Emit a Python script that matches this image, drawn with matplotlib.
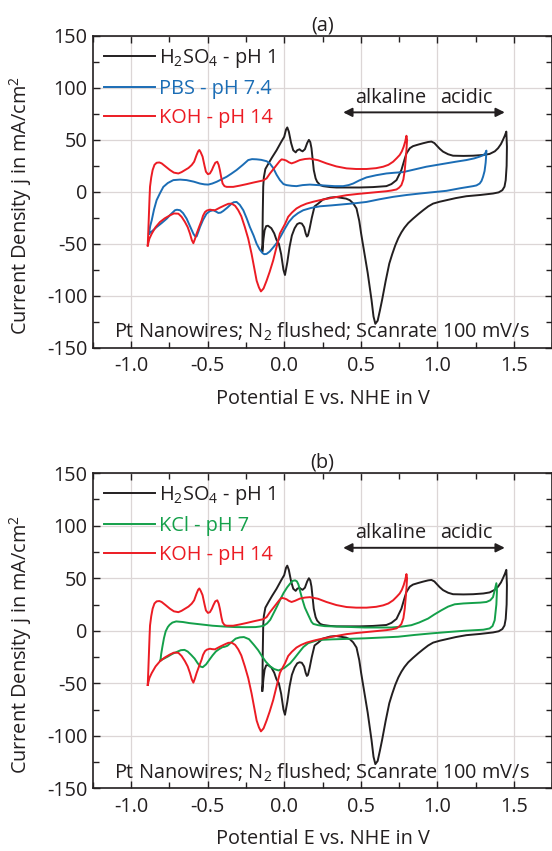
import numpy as np
import matplotlib
matplotlib.use("Agg")
import matplotlib.pyplot as plt
from matplotlib.ticker import MultipleLocator, FormatStrFormatter

plt.rcParams['font.family'] = ['Open Sans', 'DejaVu Sans']
plt.rcParams['mathtext.fontset'] = 'custom'
plt.rcParams['mathtext.rm'] = 'Open Sans'
plt.rcParams['mathtext.it'] = 'Open Sans'
plt.rcParams['axes.unicode_minus'] = False

# ---- data (E in V vs NHE, j in mA/cm^2), one loop per electrolyte
h2so4_E = [-0.143, -0.140, -0.137, -0.133, -0.123, -0.10, -0.08, -0.05, -0.02, 0.0, 0.012, 0.02, 0.03, 0.045,
           0.059, 0.075, 0.085, 0.1, 0.107, 0.12, 0.135, 0.15, 0.161, 0.17, 0.178, 0.185, 0.193, 0.205, 0.215,
           0.235, 0.254, 0.3, 0.341, 0.42, 0.493, 0.58, 0.667, 0.70, 0.733, 0.765, 0.785, 0.798, 0.82, 0.841,
           0.875, 0.907, 0.94, 0.961, 0.98, 0.993, 1.015, 1.037, 1.07, 1.102, 1.17, 1.233, 1.3, 1.341, 1.375,
           1.396, 1.415, 1.428, 1.44, 1.45,
           1.454, 1.452, 1.446, 1.438, 1.424, 1.40, 1.363, 1.28, 1.189, 1.12, 1.059, 1.015, 0.972, 0.94, 0.907,
           0.875, 0.841, 0.81, 0.785, 0.765, 0.745, 0.725, 0.705, 0.686, 0.662, 0.639, 0.625, 0.61, 0.595, 0.583,
           0.57, 0.545, 0.52, 0.502, 0.49, 0.472, 0.45, 0.428, 0.404, 0.363, 0.339, 0.30, 0.276, 0.252, 0.222,
           0.198, 0.18, 0.165, 0.155, 0.148, 0.14, 0.13, 0.115, 0.1, 0.085, 0.068, 0.05, 0.035, 0.02, 0.005,
           -0.005, -0.02, -0.035, -0.051, -0.065, -0.084, -0.106, -0.118, -0.128, -0.135, -0.143]
h2so4_j = [-57, -20, 5, 14, 22, 28, 33, 40, 48, 53, 60, 62, 58, 47,
           40, 38, 40, 41, 40, 39, 41, 47, 50, 48, 42, 32, 21, 13, 9.7,
           6.5, 5.5, 4.6, 4.2, 4.2, 4.2, 4.6, 5.5, 7.5, 11.3, 21, 31, 37, 42, 44,
           45.5, 46.8, 48, 48.4, 47, 45, 41.5, 38.7, 36.2, 34.8, 34.6, 34.8, 35.5, 36.5, 39,
           42, 46, 50, 54, 58,
           43.5, 25, 11.3, 5, 1.6, -0.5, -1.6, -3, -4.2, -6, -8, -9.5, -11.3, -14, -17.7,
           -21.5, -25.8, -30, -34.5, -39, -44.5, -51.5, -60, -69, -86, -104, -114, -124, -127, -120,
           -104, -78, -56, -40, -28, -16, -11, -8, -6.5, -5.5, -5, -5.5, -6.5, -7.5, -11.3,
           -14, -25, -36, -42, -43, -40, -34, -30.5, -30, -31, -35, -42, -53, -68, -80,
           -75, -60, -50, -46, -40, -35, -32.6, -33, -37, -45, -57]

koh_E = [-0.891, -0.889, -0.887, -0.883, -0.879, -0.876, -0.868, -0.859, -0.847, -0.833, -0.815, -0.8, -0.775,
         -0.746, -0.72, -0.691, -0.67, -0.648, -0.625, -0.604, -0.588, -0.572, -0.562, -0.554, -0.545, -0.533,
         -0.52, -0.511, -0.498, -0.485, -0.472, -0.463, -0.45, -0.437, -0.428, -0.42, -0.41, -0.402, -0.39,
         -0.376, -0.333, -0.29, -0.246, -0.2, -0.159, -0.137, -0.115, -0.093, -0.07, -0.05, -0.03, -0.017, 0.0,
         0.015, 0.03, 0.048, 0.07, 0.102, 0.135, 0.167, 0.22, 0.276, 0.34, 0.407, 0.47, 0.537, 0.6, 0.646, 0.68,
         0.711, 0.735, 0.754, 0.768, 0.78, 0.79, 0.798,
         0.802, 0.797, 0.787, 0.778, 0.765, 0.75, 0.733, 0.7, 0.667, 0.61, 0.559, 0.48, 0.407, 0.32, 0.233, 0.19,
         0.146, 0.11, 0.08, 0.05, 0.026, 0.005, -0.017, -0.028, -0.05, -0.072, -0.095, -0.115, -0.135, -0.152,
         -0.165, -0.18, -0.196, -0.213, -0.235, -0.257, -0.28, -0.3, -0.32, -0.343, -0.365, -0.387, -0.42,
         -0.452, -0.47, -0.485, -0.505, -0.517, -0.53, -0.539, -0.555, -0.572, -0.583, -0.593, -0.603, -0.615,
         -0.63, -0.648, -0.67, -0.691, -0.72, -0.746, -0.78, -0.811, -0.84, -0.865, -0.88, -0.891]
koh_j = [-51.6, -45, -37, -20, -5, 5, 14, 21, 26, 28, 28.3, 27.4, 24.5,
         21, 18.5, 17.7, 19, 21, 23, 25.8, 29, 35.5, 39, 40.3, 38, 33.9,
         25, 19.4, 17, 17.7, 21, 24.2, 28, 29, 26, 21, 13, 8, 5.5,
         4.8, 4.8, 6, 7.4, 9, 10.3, 11, 13, 17.7, 22, 25.8, 29.5, 31.3, 30.8,
         30, 28.5, 27.4, 28.5, 30.6, 31.6, 32, 30.5, 27.4, 24.5, 22.6, 22, 22, 22.8, 24.2, 26,
         29, 32.5, 35.5, 39, 43.5, 48.5, 54,
         50, 38, 21, 12, 6.5, 4, 2.3, 1.3, 0.6, -0.2, -1, -2, -3.2, -5.5, -8, -9.5,
         -11.3, -13.5, -16, -20, -24, -31, -37, -40, -53, -66, -77, -85.5, -93, -95.8,
         -92, -85.5, -73, -59.7, -45, -33.9, -23.5, -17.7, -13.5, -11.3, -11.5, -12.9, -15.2,
         -17.7, -17.5, -17.1, -18, -19.4, -23, -27.4, -33.5, -40.3, -45.5, -49.4, -46.5, -40.3,
         -34, -29, -24, -21, -20.8, -22.6, -25.5, -29, -34, -40.3, -45, -51.6]

pbs_E = [-0.883, -0.875, -0.865, -0.85, -0.833, -0.81, -0.789, -0.76, -0.724, -0.68, -0.637, -0.59, -0.55,
         -0.52, -0.496, -0.47, -0.441, -0.41, -0.376, -0.345, -0.311, -0.27, -0.235, -0.21, -0.18, -0.15,
         -0.115, -0.095, -0.072, -0.05, -0.028, -0.005, 0.015, 0.05, 0.08, 0.12, 0.167, 0.22, 0.276, 0.33,
         0.385, 0.42, 0.45, 0.49, 0.537, 0.6, 0.667, 0.72, 0.776, 0.85, 0.928, 1.0, 1.059, 1.12, 1.189, 1.24,
         1.276, 1.3, 1.312, 1.32,
         1.318, 1.315, 1.308, 1.298, 1.288, 1.276, 1.255, 1.233, 1.15, 1.059, 0.97, 0.885, 0.8, 0.711, 0.62,
         0.537, 0.46, 0.385, 0.31, 0.233, 0.175, 0.124, 0.09, 0.059, 0.03, 0.004, -0.02, -0.045, -0.072,
         -0.095, -0.115, -0.13, -0.141, -0.16, -0.18, -0.2, -0.224, -0.245, -0.267, -0.29, -0.311, -0.33,
         -0.343, -0.37, -0.398, -0.415, -0.43, -0.445, -0.463, -0.485, -0.507, -0.53, -0.55, -0.562, -0.572,
         -0.583, -0.593, -0.615, -0.637, -0.66, -0.68, -0.7, -0.713, -0.74, -0.767, -0.8, -0.833, -0.86, -0.883]
pbs_j = [-40.3, -33, -27.4, -17, -8, -1, 4.8, 8.5, 11.3, 11.8, 11.3, 9.8, 8,
         7.2, 7, 8, 9.7, 12, 14.5, 17.5, 21, 26, 30.6, 31.5, 31.3, 30.8,
         29.5, 27.5, 23, 16.5, 11.3, 7.5, 6.5, 5.8, 5.5, 6.5, 7, 6.5, 6, 5.5,
         5.5, 6.5, 8, 11, 13.9, 16, 17.7, 18.4, 19, 21.5, 24.2, 26, 27.4, 29, 30.6, 32.2,
         33.9, 35.3, 37, 39.7,
         34, 28, 20, 14.5, 10.5, 8, 6.2, 5.5, 3.5, 1, -0.3, -1.6, -3, -4.8, -7.2,
         -9.7, -11, -12, -13, -13.9, -15.5, -17.7, -20.5, -24, -29, -35.5, -42, -48.5, -53.5,
         -57.5, -59.7, -60, -59, -55.5, -50, -42, -33.9, -25.5, -17.7, -12.5, -9.7, -10,
         -11.3, -15, -18.4, -20, -20.3, -19, -17.7, -18.5, -21, -27, -33.9, -39, -42.9,
         -42.5, -40.3, -33, -25.8, -20.5, -17.7, -17.2, -17.7, -21.5, -25.8, -30, -33.9, -37.5, -40.3]

kcl_E = [-0.808, -0.803, -0.795, -0.785, -0.774, -0.76, -0.748, -0.73, -0.705, -0.66, -0.619, -0.54, -0.468,
         -0.39, -0.317, -0.25, -0.188, -0.16, -0.134, -0.112, -0.091, -0.07, -0.047, -0.025, -0.004, 0.02,
         0.039, 0.055, 0.071, 0.083, 0.093, 0.105, 0.119, 0.135, 0.157, 0.178, 0.19, 0.222, 0.265, 0.35, 0.45,
         0.526, 0.6, 0.7, 0.77, 0.83, 0.88, 0.939, 0.98, 1.026, 1.07, 1.113, 1.17, 1.222, 1.28, 1.32, 1.345,
         1.363, 1.374, 1.385,
         1.389, 1.385, 1.374, 1.36, 1.341, 1.3, 1.178, 1.07, 0.961, 0.85, 0.743, 0.63, 0.526, 0.42, 0.309,
         0.222, 0.157, 0.125, 0.093, 0.065, 0.039, 0.0, -0.037, -0.065, -0.091, -0.12, -0.144, -0.17, -0.198,
         -0.23, -0.263, -0.29, -0.317, -0.345, -0.371, -0.39, -0.403, -0.425, -0.446, -0.468, -0.489, -0.51,
         -0.532, -0.548, -0.565, -0.585, -0.608, -0.63, -0.651, -0.675, -0.694, -0.73, -0.759, -0.785, -0.808]
kcl_j = [-28.3, -22, -15, -7, -0.6, 3.5, 5.7, 7.8, 8.9, 8.3, 7.3, 6, 4.8,
         4, 3.5, 3.4, 3.5, 4, 4.8, 7, 10.5, 16.5, 23.2, 30, 36, 41.5,
         45, 47.5, 48, 47, 44, 37, 29.6, 22, 15, 8.5, 6.5, 5.3, 4.4, 4, 3.5,
         3.1, 3.1, 3.1, 4, 5.3, 7.8, 11.6, 15.5, 19.5, 23, 25.2, 26, 26.4, 26.8, 27.4, 29,
         32, 38.4, 45.3,
         38.4, 25, 10, 4.5, 2.2, 1, 0, -1.2, -2.5, -4, -5.7, -6.5, -7.2, -7.7, -8.2,
         -8.8, -11.8, -15.5, -21.3, -26.5, -31, -35.5, -37.8, -36.5, -34, -29.5, -24.5, -18.5, -13.4,
         -8, -6, -6.3, -7.5, -11, -14.3, -15.3, -15.6, -17.5, -19.7, -23.5, -27.7, -32,
         -34.7, -34, -30.9, -26.5, -22.9, -19.8, -18.2, -18.5, -19.7, -22, -24.5, -26.5, -28.3]

BLACK = '#231f20'
RED = '#ec1c24'
BLUE = '#1b6db5'
GREEN = '#14a04a'

panel_a = [("H$_2$SO$_4$ - pH 1", h2so4_E, h2so4_j, BLACK),
           ("PBS - pH 7.4", pbs_E, pbs_j, BLUE),
           ("KOH - pH 14", koh_E, koh_j, RED)]
panel_b = [("H$_2$SO$_4$ - pH 1", h2so4_E, h2so4_j, BLACK),
           ("KCl - pH 7", kcl_E, kcl_j, GREEN),
           ("KOH - pH 14", koh_E, koh_j, RED)]

FS = 14.3

fig = plt.figure(figsize=(5.52, 8.51), dpi=100)
ax_a = fig.add_axes([0.168, 0.5914, 0.8325, 0.3663])
ax_b = fig.add_axes([0.168, 0.0737, 0.8325, 0.3702])


def draw_panel(ax, series, title, arrow_y, text_y):
    for label, E, j, color in series:
        ax.plot(E, j, color=color, lw=1.4, label=label)

    ax.set_xlim(-1.25, 1.75)
    ax.set_ylim(-150, 150)
    ax.xaxis.set_major_locator(MultipleLocator(0.5))
    ax.xaxis.set_minor_locator(MultipleLocator(0.25))
    ax.yaxis.set_major_locator(MultipleLocator(50))
    ax.yaxis.set_minor_locator(MultipleLocator(25))
    ax.xaxis.set_major_formatter(FormatStrFormatter('%.1f'))
    ax.grid(True, which='major', color='#dcd6d6', lw=0.9)
    ax.set_axisbelow(True)
    ax.tick_params(which='both', direction='in', top=True, right=True, labelsize=FS, color=BLACK,
                   labelcolor=BLACK)
    ax.tick_params(which='major', length=5, width=1)
    ax.tick_params(which='minor', length=4, width=1)
    ax.tick_params(axis='x', pad=6)
    ax.tick_params(axis='y', pad=4)
    for sp in ax.spines.values():
        sp.set_linewidth(1.2)
        sp.set_color(BLACK)

    ax.set_xlabel("Potential E vs. NHE in V", fontsize=FS, labelpad=9, color=BLACK)
    ax.set_ylabel("Current Density j in mA/cm$^2$", fontsize=FS, color=BLACK)
    ax.yaxis.set_label_coords(-0.128, 0.455)
    ax.set_title(title, fontsize=FS, pad=4, color=BLACK)

    ax.legend(loc='upper left', frameon=False, fontsize=FS, handlelength=2.6,
              handletextpad=0.2, labelspacing=0.45, borderaxespad=0.25,
              borderpad=0.3, labelcolor='linecolor')

    ax.annotate('', xy=(0.385, arrow_y), xytext=(1.44, arrow_y),
                arrowprops=dict(arrowstyle='<|-|>', color=BLACK, lw=1.4, mutation_scale=13,
                                shrinkA=0, shrinkB=0))
    ax.text(0.698, text_y, "alkaline", fontsize=FS, ha='center', va='center', color=BLACK)
    ax.text(1.187, text_y, "acidic", fontsize=FS, ha='center', va='center', color=BLACK)
    ax.text(0.247, -135, "Pt Nanowires; N$_2$ flushed; Scanrate 100 mV/s", fontsize=FS,
            ha='center', va='center', color=BLACK)


draw_panel(ax_a, panel_a, "(a)", 76.5, 90)
draw_panel(ax_b, panel_b, "(b)", 79, 93)

fig.savefig("out.png", dpi=100)
